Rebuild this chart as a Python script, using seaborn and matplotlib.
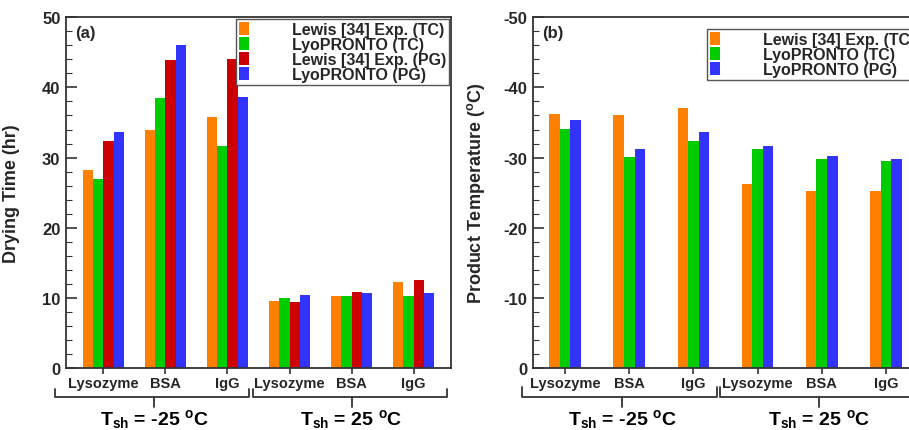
import matplotlib
matplotlib.use("Agg")
import matplotlib.pyplot as plt
import matplotlib.transforms as mtrans
from matplotlib.ticker import MultipleLocator
import pandas as pd
import seaborn as sns

# ---------------- data ----------------
proteins = ["Lysozyme", "BSA", "IgG", "Lysozyme", "BSA", "IgG"]
groups = ["g0", "g1", "g2", "g3", "g4", "g5"]
condition_labels = [r"T$_{sh}$ = -25 $^{o}$C", r"T$_{sh}$ = 25 $^{o}$C"]

series_time = ["Lewis [34] Exp. (TC)", "LyoPRONTO (TC)", "Lewis [34] Exp. (PG)", "LyoPRONTO (PG)"]
lewis_tc_time = [28.2, 34.0, 35.8, 9.55, 10.3, 12.3]
lyo_tc_time = [27.0, 38.5, 31.6, 9.95, 10.2, 10.3]
lewis_pg_time = [32.4, 43.9, 44.1, 9.4, 10.8, 12.55]
lyo_pg_time = [33.7, 46.1, 38.6, 10.4, 10.65, 10.7]

series_temp = ["Lewis [34] Exp. (TC)", "LyoPRONTO (TC)", "LyoPRONTO (PG)"]
lewis_tc_temp = [-36.2, -36.0, -37.0, -26.2, -25.2, -25.3]
lyo_tc_temp = [-34.1, -30.1, -32.3, -31.2, -29.75, -29.5]
lyo_pg_temp = [-35.4, -31.2, -33.6, -31.6, -30.2, -29.75]

colors_time = ["#FF8000", "#00CC00", "#CC0000", "#3333FF"]
colors_temp = ["#FF8000", "#00CC00", "#3333FF"]


def long_df(series_names, value_lists):
    rows = []
    for name, vals in zip(series_names, value_lists):
        for g, v in zip(groups, vals):
            rows.append({"group": g, "series": name, "value": v})
    return pd.DataFrame(rows)


df_time = long_df(series_time, [lewis_tc_time, lyo_tc_time, lewis_pg_time, lyo_pg_time])
df_temp = long_df(series_temp, [lewis_tc_temp, lyo_tc_temp, lyo_pg_temp])

# ---------------- style ----------------
sns.set_theme(style="ticks")
plt.rcParams["font.family"] = ["Liberation Sans", "DejaVu Sans"]
plt.rcParams["font.weight"] = "bold"
plt.rcParams["axes.unicode_minus"] = False
plt.rcParams["mathtext.fontset"] = "custom"
plt.rcParams["mathtext.rm"] = "Liberation Sans:bold"
plt.rcParams["mathtext.it"] = "Liberation Sans:bold"
plt.rcParams["mathtext.bf"] = "Liberation Sans:bold"

EDGE = "#333333"

fig = plt.figure(figsize=(9.09, 4.31), dpi=100)
ax_a = fig.add_axes([66 / 909, 62 / 431, 385 / 909, 350.7 / 431])
ax_b = fig.add_axes([533 / 909, 62 / 431, 385 / 909, 350.7 / 431])


def style_axis(ax, ylabel, ylim, xlim):
    ax.set_xlim(*xlim)
    ax.set_ylim(*ylim)
    ax.set_xticks(range(len(proteins)))
    ax.set_xticklabels(proteins, fontsize=10.5, fontweight="bold")
    ax.set_xlabel("")
    ax.set_ylabel(ylabel, fontsize=13, fontweight="bold")
    ax.yaxis.set_label_coords(-0.119, 0.5)
    ax.yaxis.set_major_locator(MultipleLocator(10))
    ax.yaxis.set_minor_locator(MultipleLocator(2))
    ax.tick_params(axis="y", which="major", direction="in", length=8, width=1.2,
                   color=EDGE, labelsize=12, pad=4)
    ax.tick_params(axis="y", which="minor", direction="in", length=4.5, width=0.8, color=EDGE)
    ax.tick_params(axis="x", which="major", direction="inout", length=8, width=1.2,
                   color=EDGE, pad=2)
    for lab in ax.get_yticklabels():
        lab.set_fontweight("bold")
    for sp in ax.spines.values():
        sp.set_visible(True)
        sp.set_color(EDGE)
        sp.set_linewidth(1.3)


def rebuild_legend(ax, anchor, loc):
    old = ax.get_legend()
    handles = old.legend_handles
    labels = [t.get_text() for t in old.get_texts()]
    old.remove()
    leg = ax.legend(handles, labels, loc=loc, bbox_to_anchor=anchor, borderaxespad=0,
                    frameon=True, fancybox=False, framealpha=1, edgecolor="#555555",
                    prop={"weight": "bold", "size": 11.5}, handlelength=0.6,
                    handleheight=0.85, handletextpad=2.7, labelspacing=0.0,
                    borderpad=0.2)
    leg.get_frame().set_linewidth(1.0)


def bracket(ax, x0, x1, xc, label, y_end, y_bar, y_tick, y_text):
    tr = mtrans.blended_transform_factory(ax.transData, ax.transAxes)
    ax.plot([x0, x0, x1, x1], [y_end, y_bar, y_bar, y_end], color=EDGE, lw=1.3,
            transform=tr, clip_on=False, solid_joinstyle="round")
    ax.plot([xc, xc], [y_bar, y_tick], color=EDGE, lw=1.3, transform=tr, clip_on=False)
    ax.text(xc, y_text, label, transform=tr, ha="center", va="baseline",
            fontsize=14, fontweight="bold", color="black")


# ---------------- panel (a) ----------------
sns.barplot(data=df_time, x="group", y="value", hue="series", order=groups,
            hue_order=series_time, palette=colors_time, width=0.66, dodge=True,
            saturation=1, linewidth=0, errorbar=None, ax=ax_a)
style_axis(ax_a, "Drying Time (hr)", (0, 50), (-0.6, 5.6))
rebuild_legend(ax_a, (0.995, 0.995), "upper right")
ax_a.text(0.023, 0.958, "(a)", transform=ax_a.transAxes, fontsize=12,
          fontweight="bold", va="center", ha="left")
bracket(ax_a, -0.77, 2.34, 0.82, condition_labels[0], -0.06, -0.083, -0.111, -0.160)
bracket(ax_a, 2.41, 5.53, 4.0, condition_labels[1], -0.06, -0.083, -0.111, -0.160)

# ---------------- panel (b) ----------------
sns.barplot(data=df_temp, x="group", y="value", hue="series", order=groups,
            hue_order=series_temp, palette=colors_temp, width=0.495, dodge=True,
            saturation=1, linewidth=0, errorbar=None, ax=ax_b)
style_axis(ax_b, r"Product Temperature ($^{o}$C)", (0, -50), (-0.5, 5.5))
rebuild_legend(ax_b, (0.452, 0.967), "upper left")
ax_b.text(0.023, 0.958, "(b)", transform=ax_b.transAxes, fontsize=12,
          fontweight="bold", va="center", ha="left")
bracket(ax_b, -0.67, 2.36, 0.89, condition_labels[0], -0.055, -0.083, -0.111, -0.160)
bracket(ax_b, 2.42, 5.45, 3.96, condition_labels[1], -0.055, -0.083, -0.111, -0.160)

fig.savefig("out.png", dpi=100)
